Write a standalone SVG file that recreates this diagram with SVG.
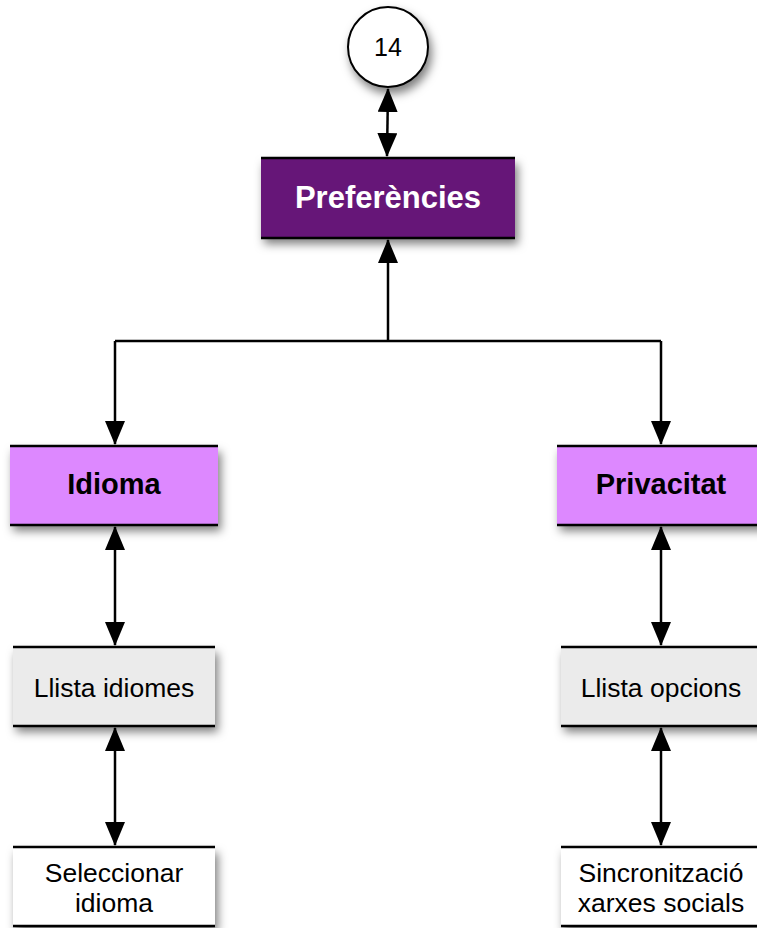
<svg xmlns="http://www.w3.org/2000/svg" width="757" height="928" viewBox="0 0 757 928">
  <defs>
    <filter id="shadow" x="-20%" y="-20%" width="150%" height="170%">
      <feDropShadow dx="3" dy="6" stdDeviation="5" flood-color="#000" flood-opacity="0.5"/>
    </filter>
    <marker id="arrow" markerUnits="userSpaceOnUse" markerWidth="24" markerHeight="20" viewBox="0 0 24 20" refX="23" refY="10" orient="auto-start-reverse">
      <path d="M0,0 L24,10 L0,20 z" fill="#000"/>
    </marker>
  </defs>
  <style>
    .edge { stroke: #000; stroke-width: 2.5; fill: none; }
    .rule { stroke: #000; stroke-width: 2.5; }
    .bold { font-family: "Liberation Sans", Arial, sans-serif; font-weight: bold; text-anchor: middle; }
    .plain { font-family: "Liberation Sans", Arial, sans-serif; font-size: 26.5px; text-anchor: middle; fill: #000; }
    .num { font-family: "Liberation Sans", Arial, sans-serif; font-size: 25px; text-anchor: middle; fill: #000; }
  </style>

  <rect width="757" height="928" fill="#fff"/>

  <!-- connectors -->
  <g id="connectors">
    <path class="edge" d="M388,89 L387,156" marker-start="url(#arrow)" marker-end="url(#arrow)"/>
    <path class="edge" d="M388,240 L388,341" marker-start="url(#arrow)"/>
    <path class="edge" d="M115,341 L661,341"/>
    <path class="edge" d="M115,341 L115,444" marker-end="url(#arrow)"/>
    <path class="edge" d="M661,341 L661,444" marker-end="url(#arrow)"/>
    <path class="edge" d="M115,527 L115,645" marker-start="url(#arrow)" marker-end="url(#arrow)"/>
    <path class="edge" d="M661,527 L661,645" marker-start="url(#arrow)" marker-end="url(#arrow)"/>
    <path class="edge" d="M115,728 L115,845" marker-start="url(#arrow)" marker-end="url(#arrow)"/>
    <path class="edge" d="M661,728 L661,845" marker-start="url(#arrow)" marker-end="url(#arrow)"/>
  </g>

  <!-- page number -->
  <g id="node-14">
    <circle cx="388" cy="47" r="40" fill="#fff" stroke="#000" stroke-width="2" filter="url(#shadow)"/>
    <text x="388" y="56" class="num">14</text>
  </g>

  <g id="node-preferencies">
    <rect x="261" y="158" width="254" height="80" fill="#661878" filter="url(#shadow)"/>
    <line class="rule" x1="261" y1="158" x2="515" y2="158"/>
    <line class="rule" x1="261" y1="238" x2="515" y2="238"/>
    <text x="388" y="208" class="bold" font-size="31" fill="#fff">Preferències</text>
  </g>

  <g id="node-idioma">
    <rect x="10" y="446" width="208" height="79" fill="#DD88FF" filter="url(#shadow)"/>
    <line class="rule" x1="10" y1="446" x2="218" y2="446"/>
    <line class="rule" x1="10" y1="525" x2="218" y2="525"/>
    <text x="114" y="494" class="bold" font-size="29" fill="#000">Idioma</text>
  </g>

  <g id="node-privacitat">
    <rect x="557" y="446" width="208" height="79" fill="#DD88FF" filter="url(#shadow)"/>
    <line class="rule" x1="557" y1="446" x2="765" y2="446"/>
    <line class="rule" x1="557" y1="525" x2="765" y2="525"/>
    <text x="661" y="494" class="bold" font-size="29" fill="#000">Privacitat</text>
  </g>

  <g id="node-llista-idiomes">
    <rect x="13" y="647" width="202" height="79" fill="#EBEBEB" filter="url(#shadow)"/>
    <line class="rule" x1="13" y1="647" x2="215" y2="647"/>
    <line class="rule" x1="13" y1="726" x2="215" y2="726"/>
    <text x="114" y="697" class="plain">Llista idiomes</text>
  </g>

  <g id="node-llista-opcions">
    <rect x="561" y="647" width="202" height="79" fill="#EBEBEB" filter="url(#shadow)"/>
    <line class="rule" x1="561" y1="647" x2="763" y2="647"/>
    <line class="rule" x1="561" y1="726" x2="763" y2="726"/>
    <text x="661" y="697" class="plain">Llista opcions</text>
  </g>

  <g id="node-seleccionar-idioma">
    <rect x="13" y="847" width="202" height="79" fill="#fff" filter="url(#shadow)"/>
    <line class="rule" x1="13" y1="847" x2="215" y2="847"/>
    <line class="rule" x1="13" y1="926" x2="215" y2="926"/>
    <text x="114" y="882" class="plain">Seleccionar</text>
    <text x="114" y="912" class="plain">idioma</text>
  </g>

  <g id="node-sincronitzacio">
    <rect x="561" y="847" width="202" height="79" fill="#fff" filter="url(#shadow)"/>
    <line class="rule" x1="561" y1="847" x2="763" y2="847"/>
    <line class="rule" x1="561" y1="926" x2="763" y2="926"/>
    <text x="661" y="882" class="plain">Sincronització</text>
    <text x="661" y="912" class="plain">xarxes socials</text>
  </g>
</svg>
